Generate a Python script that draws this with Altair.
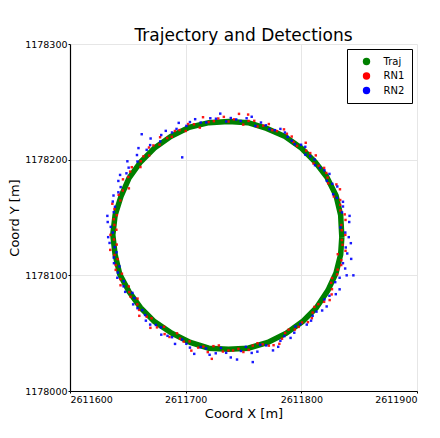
import altair as alt
import pandas as pd

# Trajectory (roughly every 10 degrees around the loop)
traj_x = [2611835, 2611834, 2611830, 2611822, 2611812, 2611800, 2611786, 2611770, 2611754,
          2611737, 2611720, 2611703, 2611687, 2611673, 2611661, 2611651, 2611644, 2611639,
          2611637, 2611639, 2611643, 2611651, 2611661, 2611673, 2611688, 2611704, 2611720,
          2611737, 2611754, 2611771, 2611787, 2611801, 2611813, 2611823, 2611830, 2611834,
          2611835]
traj_y = [1178133, 1178152, 1178169, 1178185, 1178198, 1178210, 1178220, 1178227, 1178232,
          1178233, 1178232, 1178228, 1178220, 1178210, 1178198, 1178184, 1178168, 1178152,
          1178135, 1178118, 1178101, 1178086, 1178072, 1178060, 1178050, 1178042, 1178037,
          1178036, 1178037, 1178042, 1178050, 1178060, 1178072, 1178087, 1178102, 1178118,
          1178133]

# RN1 detections
rn1_x = [2611838, 2611834.6, 2611837.5, 2611833.6, 2611828.1, 2611830.3, 2611822.7, 2611819.7,
         2611810.5, 2611807.7, 2611803.8, 2611793.2, 2611787.5, 2611778.9, 2611771.9, 2611762.1,
         2611754.4, 2611746.1, 2611737, 2611728.2, 2611719.8, 2611712.2, 2611702.1, 2611694.7,
         2611688, 2611677.9, 2611672.1, 2611668.4, 2611661.2, 2611653.4, 2611650.4, 2611650.9,
         2611642.1, 2611636.6, 2611640.5, 2611638.4, 2611635, 2611640.4, 2611638.5, 2611639.5,
         2611644.9, 2611643.7, 2611651.3, 2611658.4, 2611659.7, 2611666.3, 2611669.5, 2611681.3,
         2611686, 2611695.1, 2611703.4, 2611710.9, 2611719.1, 2611728.7, 2611737, 2611745.6,
         2611754.5, 2611762.1, 2611771.9, 2611781, 2611786, 2611794.4, 2611800.6, 2611809.1,
         2611811.3, 2611819.7, 2611826.2, 2611825.8, 2611830.9, 2611834.5, 2611831.5, 2611835.6,
         2611835, 2611838.2, 2611833.8, 2611833.6, 2611833.4, 2611823.2, 2611821.6, 2611815,
         2611812.5, 2611804.2, 2611796.3, 2611791.7, 2611785, 2611774.9, 2611767.1, 2611759.3,
         2611749.8, 2611741.7, 2611733, 2611724.4, 2611715, 2611707.2, 2611700, 2611690.7,
         2611684, 2611677.4, 2611668.3, 2611663.5, 2611660.9, 2611652, 2611645.8, 2611645.6,
         2611643.5, 2611638.4, 2611637.8, 2611640.1, 2611638, 2611634.8, 2611641.2, 2611639.5,
         2611643.5, 2611650.8, 2611652.4, 2611658.2, 2611659.9, 2611670.5, 2611675.2, 2611681.8,
         2611692.5, 2611698.3, 2611704.9, 2611715.3, 2611724, 2611732.2, 2611741, 2611749.9,
         2611758, 2611766.5, 2611776, 2611783.3, 2611789, 2611797.7, 2611805.7, 2611809.8,
         2611814.7, 2611824.5, 2611826.5, 2611826.6, 2611831.4, 2611834.6, 2611838.2, 2611835,
         2611722.6, 2611754]
rn1_y = [1178135, 1178143.5, 1178152.7, 1178160.9, 1178168.2, 1178178.6, 1178184.5, 1178192.9,
         1178196.7, 1178205.7, 1178214.6, 1178215.3, 1178222.4, 1178224.7, 1178230.8, 1178228.7,
         1178233.5, 1178239.6, 1178233, 1178235.6, 1178232.5, 1178227.7, 1178230.8, 1178225.6,
         1178219.8, 1178219.4, 1178212.3, 1178203.6, 1178198.6, 1178193.5, 1178185, 1178175.2,
         1178169.6, 1178161.9, 1178152, 1178143.6, 1178135, 1178126.6, 1178117.6, 1178108.9,
         1178101.4, 1178091.4, 1178085.5, 1178079.9, 1178070.1, 1178064.3, 1178054.6, 1178055.5,
         1178046.7, 1178045.3, 1178042.9, 1178037.5, 1178033.6, 1178039.4, 1178035, 1178036.4,
         1178035.5, 1178041.3, 1178039.2, 1178040.8, 1178050.2, 1178053.1, 1178059.2, 1178062.9,
         1178072.7, 1178077.1, 1178083.5, 1178093.5, 1178100.8, 1178108.9, 1178118.3, 1178126.4,
         1178139, 1178147.9, 1178156.1, 1178165.1, 1178174.4, 1178179.6, 1178188.5, 1178194.6,
         1178203.7, 1178207.8, 1178211.9, 1178220, 1178226.2, 1178225.5, 1178229.4, 1178233.6,
         1178230.3, 1178234.9, 1178237, 1178233.3, 1178236.7, 1178230.6, 1178224.8, 1178224.8,
         1178218.7, 1178213, 1178210.5, 1178202.9, 1178193.6, 1178189.7, 1178183, 1178173.3,
         1178164.7, 1178157.3, 1178148.5, 1178139.4, 1178131, 1178122, 1178114, 1178104.7,
         1178096.7, 1178090.4, 1178081.5, 1178074.9, 1178065, 1178062.9, 1178055, 1178049.2,
         1178049.9, 1178042.7, 1178034.9, 1178038.4, 1178038.8, 1178034.1, 1178035, 1178033.7,
         1178039.2, 1178040.4, 1178039.6, 1178045.2, 1178053, 1178055.4, 1178059.5, 1178067.8,
         1178075.1, 1178078.6, 1178088, 1178097.6, 1178104.9, 1178113, 1178121.2, 1178130.5,
         1178027.8, 1178239]

# RN2 detections
rn2_x = [2611841, 2611833.8, 2611841.7, 2611836, 2611830.7, 2611831.1, 2611822, 2611820,
         2611811.8, 2611807.7, 2611803.4, 2611794.3, 2611788.2, 2611781.9, 2611772.4, 2611765.1,
         2611757.1, 2611747.6, 2611739, 2611729.9, 2611721.3, 2611713, 2611703.7, 2611694,
         2611688.2, 2611678.9, 2611669.7, 2611666.3, 2611657.9, 2611649.6, 2611648.8, 2611641.8,
         2611641.8, 2611637, 2611637.8, 2611632.6, 2611637, 2611634.2, 2611640.2, 2611638,
         2611641.4, 2611646.5, 2611647.7, 2611655.6, 2611658.3, 2611664.9, 2611669.3, 2611678.6,
         2611684.3, 2611690.8, 2611700.6, 2611707.4, 2611717.6, 2611726, 2611735, 2611744.4,
         2611752.1, 2611762, 2611769.6, 2611780, 2611785.3, 2611793.9, 2611799.1, 2611808.4,
         2611813.1, 2611821.9, 2611824.3, 2611833.1, 2611833.1, 2611837.9, 2611843.1, 2611838.4,
         2611838, 2611841.4, 2611835.2, 2611836, 2611827.5, 2611826.8, 2611824.3, 2611816.2,
         2611811.5, 2611803.5, 2611799.8, 2611791.7, 2611785.8, 2611777.1, 2611769.3, 2611760.2,
         2611752.7, 2611743.7, 2611735, 2611726.2, 2611717.8, 2611708.2, 2611700.6, 2611692.1,
         2611682.8, 2611678, 2611669.3, 2611659.2, 2611658.3, 2611650.7, 2611643.3, 2611643.8,
         2611637.6, 2611638.9, 2611632.3, 2611635.2, 2611633, 2611638.6, 2611637.8, 2611642.8,
         2611640.9, 2611646.3, 2611654, 2611654.6, 2611662.5, 2611665.6, 2611674.2, 2611678.9,
         2611688.2, 2611696.9, 2611703.7, 2611713, 2611720.7, 2611730.5, 2611739, 2611747.8,
         2611757.1, 2611764.5, 2611775.5, 2611781.9, 2611790.7, 2611794.9, 2611804.7, 2611809.8,
         2611818, 2611820, 2611829.8, 2611829.3, 2611839.2, 2611836, 2611839.7, 2611842.8,
         2611697, 2611662, 2611845, 2611758]
rn2_y = [1178133, 1178141.4, 1178151.4, 1178159.5, 1178167, 1178176.8, 1178181.8, 1178190.8,
         1178195.2, 1178202.9, 1178211.1, 1178213.3, 1178219.7, 1178226.6, 1178226.4, 1178232.1,
         1178237.1, 1178233.4, 1178236, 1178239.8, 1178235.8, 1178232.1, 1178232.5, 1178231.8,
         1178223.5, 1178221.3, 1178218.3, 1178208.5, 1178204, 1178198.6, 1178188.2, 1178181.6,
         1178171.8, 1178163.8, 1178154.6, 1178146.1, 1178137, 1178128, 1178119.9, 1178110.5,
         1178102.4, 1178094.9, 1178085.7, 1178080.3, 1178071.6, 1178065.7, 1178057.4, 1178055,
         1178047.7, 1178040.7, 1178040.8, 1178032.1, 1178036.8, 1178032.6, 1178033, 1178027.2,
         1178038.2, 1178034, 1178039.4, 1178038.2, 1178047.4, 1178050.4, 1178057.9, 1178060.8,
         1178068.6, 1178073.1, 1178082.3, 1178087.9, 1178097.9, 1178105.9, 1178114.2, 1178124.1,
         1178137, 1178146.1, 1178154.4, 1178163.6, 1178170.1, 1178179.1, 1178187.7, 1178192.9,
         1178200.1, 1178204.3, 1178212.9, 1178216.4, 1178223.5, 1178225.5, 1178229.7, 1178229.2,
         1178235.8, 1178234.8, 1178233, 1178235.4, 1178232.2, 1178235, 1178229.2, 1178226.6,
         1178224.9, 1178215.8, 1178212.6, 1178210, 1178198.4, 1178193.1, 1178186.8, 1178176.3,
         1178169, 1178159.3, 1178151.4, 1178141.9, 1178133, 1178124.4, 1178115.4, 1178107.7,
         1178097.9, 1178090.5, 1178084.8, 1178074.9, 1178069.9, 1178060.8, 1178057.1, 1178048.7,
         1178046.5, 1178044.5, 1178037.5, 1178037.9, 1178031.3, 1178037.2, 1178029, 1178034.6,
         1178032.9, 1178039.9, 1178035.1, 1178043.4, 1178045.9, 1178055.8, 1178057.4, 1178065,
         1178069.6, 1178079.2, 1178083.7, 1178094.1, 1178100, 1178110.5, 1178118.9, 1178127.8,
         1178202, 1178222, 1178100, 1178025]

series_names = ["Traj", "RN1", "RN2"]
series_colors = ["#008000", "#ff0000", "#0000ff"]
x_ticks = [2611600, 2611700, 2611800, 2611900]
y_ticks = [1178000, 1178100, 1178200, 1178300]

traj_df = pd.DataFrame({"x": traj_x, "y": traj_y, "i": list(range(len(traj_x)))})
det_df = pd.concat([
    pd.DataFrame({"x": rn1_x, "y": rn1_y, "series": "RN1"}),
    pd.DataFrame({"x": rn2_x, "y": rn2_y, "series": "RN2"}),
], ignore_index=True)

FONT = "DejaVu Sans"

x_enc = alt.X("x:Q", scale=alt.Scale(domain=[x_ticks[0], x_ticks[-1]], nice=False, zero=False),
              axis=alt.Axis(title="Coord X [m]", values=x_ticks, format="d"))
y_enc = alt.Y("y:Q", scale=alt.Scale(domain=[y_ticks[0], y_ticks[-1]], nice=False, zero=False),
              axis=alt.Axis(title="Coord Y [m]", values=y_ticks, format="d"))

traj = alt.Chart(traj_df).mark_line(color="#008000", strokeWidth=5.5, clip=True).encode(
    x=x_enc, y=y_enc, order="i:Q")

dets = alt.Chart(det_df).mark_square(size=6, opacity=0.9, clip=True).encode(
    x="x:Q", y="y:Q",
    color=alt.Color("series:N",
                    scale=alt.Scale(domain=series_names, range=series_colors),
                    legend=alt.Legend(title=None, orient="top-right", offset=5,
                                      symbolType="circle", symbolSize=55, symbolOpacity=1,
                                      symbolStrokeWidth=0,
                                      labelFontSize=10, labelFont=FONT, labelColor="#000000",
                                      labelOffset=12, rowPadding=4.5,
                                      padding=7.5, symbolOffset=7,
                                      strokeColor="#000000", fillColor="#ffffff")),
    order=alt.Order("series:N"))

chart = alt.layer(traj, dets).properties(
    width=347, height=347,
    title=alt.TitleParams("Trajectory and Detections", fontSize=17, font=FONT,
                          fontWeight="normal", color="#000000", anchor="middle",
                          frame="group", baseline="alphabetic", offset=-19),
    autosize=alt.AutoSizeParams(type="none"),
    padding={"left": 62, "top": 36, "right": 15, "bottom": 39},
).configure_view(stroke=None).configure_axis(
    labelFont=FONT, titleFont=FONT, labelFontSize=9.5, titleFontSize=13,
    titleFontWeight="normal", labelColor="#000000", titleColor="#000000",
    domainColor="#000000", domainWidth=1.2, tickColor="#000000", tickSize=2,
    gridColor="#e6e6e6", gridWidth=1, labelPadding=1,
).configure_axisX(titlePadding=4).configure_axisY(titlePadding=3)

chart.save("out.html", embed_options={"renderer": "svg", "actions": False})
